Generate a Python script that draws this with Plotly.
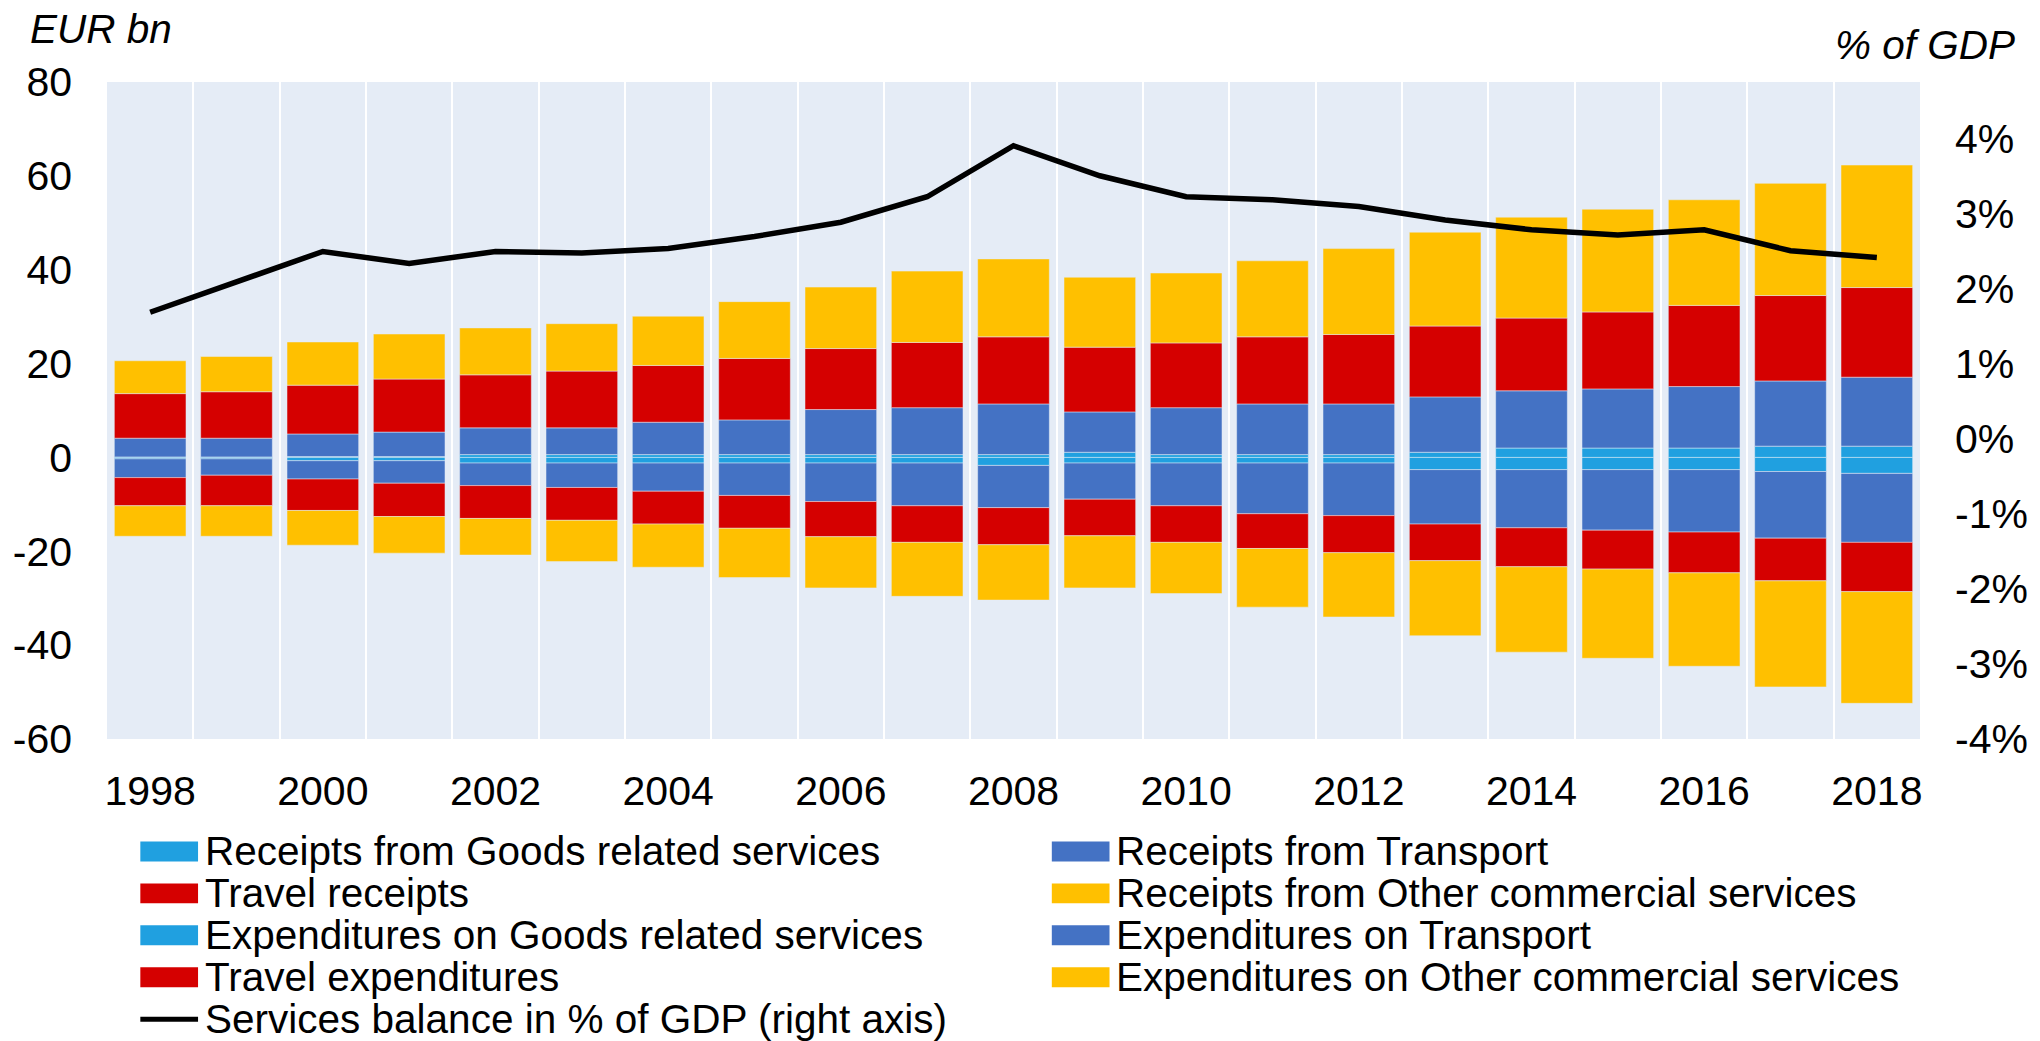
import plotly.graph_objects as go

# ---------------- data (EUR bn) ----------------
years = list(range(1998, 2019))

rec_goods = [0.1, 0.1, 0.2, 0.2, 0.6, 0.6, 0.6, 0.6, 0.6, 0.6, 0.6,
             1.1, 0.6, 0.6, 0.6, 1.1, 2.0, 2.0, 2.0, 2.4, 2.4]
rec_transport = [4.0, 4.0, 4.8, 5.2, 5.7, 5.7, 6.9, 7.4, 9.6, 10.0, 10.8,
                 8.6, 10.0, 10.8, 10.8, 11.8, 12.2, 12.6, 13.1, 13.9, 14.7]
travel_rec = [9.5, 9.9, 10.4, 11.3, 11.3, 12.1, 12.1, 13.1, 13.0, 13.9, 14.3,
              13.8, 13.8, 14.3, 14.8, 15.1, 15.5, 16.4, 17.3, 18.2, 19.1]
rec_other = [7.0, 7.5, 9.2, 9.6, 10.0, 10.1, 10.5, 12.1, 13.1, 15.2, 16.6,
             14.9, 14.9, 16.2, 18.3, 20.0, 21.5, 21.9, 22.5, 23.9, 26.1]

exp_goods = [-0.3, -0.3, -0.7, -0.7, -1.2, -1.2, -1.2, -1.2, -1.2, -1.2, -1.7,
             -1.2, -1.2, -1.2, -1.2, -2.6, -2.6, -2.6, -2.6, -3.0, -3.4]
exp_transport = [-4.0, -3.5, -3.9, -4.8, -4.8, -5.2, -6.0, -6.9, -8.2, -9.1, -9.0,
                 -7.7, -9.1, -10.8, -11.2, -11.6, -12.4, -12.9, -13.3, -14.2, -14.7]
travel_exp = [-6.0, -6.5, -6.7, -7.1, -7.0, -7.0, -7.0, -7.0, -7.5, -7.8, -7.9,
              -7.8, -7.8, -7.4, -7.9, -7.8, -8.3, -8.3, -8.7, -9.1, -10.5]
exp_other = [-6.5, -6.5, -7.4, -7.8, -7.8, -8.8, -9.2, -10.5, -10.9, -11.5, -11.8,
             -11.1, -10.9, -12.5, -13.7, -16.0, -18.2, -19.0, -19.9, -22.6, -23.8]

# services balance, % of GDP (right axis)
balance_pct = [1.69, 2.10, 2.50, 2.34, 2.50, 2.48, 2.54, 2.70, 2.89, 3.23, 3.91,
               3.51, 3.23, 3.19, 3.10, 2.92, 2.79, 2.72, 2.79, 2.51, 2.42]

# tick labels
x_tickvals = list(range(1998, 2019, 2))
x_ticktext = [str(v) for v in x_tickvals]
left_tickvals = [-60, -40, -20, 0, 20, 40, 60, 80]
left_ticktext = ["-60", "-40", "-20", "0", "20", "40", "60", "80"]
right_tickvals = [-4, -3, -2, -1, 0, 1, 2, 3, 4]
right_ticktext = ["-4%", "-3%", "-2%", "-1%", "0%", "1%", "2%", "3%", "4%"]

# ---------------- styles ----------------
LIGHTBLUE = "#20A0E0"
BLUE = "#4472C4"
RED = "#D50000"
YELLOW = "#FFC000"
BG = "#E5ECF6"
FONT = "Liberation Sans, Arial, sans-serif"
FS_TICK = 41
FS_TEXT = 40.5

bar_series = [
    ("Receipts from Goods related services", rec_goods, LIGHTBLUE),
    ("Receipts from Transport", rec_transport, BLUE),
    ("Travel receipts", travel_rec, RED),
    ("Receipts from Other commercial services", rec_other, YELLOW),
    ("Expenditures on Goods related services", exp_goods, LIGHTBLUE),
    ("Expenditures on Transport", exp_transport, BLUE),
    ("Travel expenditures", travel_exp, RED),
    ("Expenditures on Other commercial services", exp_other, YELLOW),
]
line_name = "Services balance in % of GDP (right axis)"

fig = go.Figure()
for name, vals, col in bar_series:
    fig.add_trace(go.Bar(
        x=years, y=vals, name=name,
        marker=dict(color=col, line=dict(color=BG, width=0.5)),
        showlegend=False,
    ))
fig.add_trace(go.Scatter(
    x=years, y=balance_pct, yaxis="y2", mode="lines", name=line_name,
    line=dict(color="black", width=5.5), showlegend=False,
))

# ---------------- layout geometry ----------------
W, H = 2040, 1041
PL, PR, PT, PB = 107, 1929, 82, 739.5


def px_x(px):
    return (px - PL) / (PR - PL)


def px_y(py):
    return (PB - py) / (PB - PT)


fig.update_layout(
    width=W, height=H,
    margin=dict(l=PL, r=W - PR, t=PT, b=H - PB, pad=0),
    paper_bgcolor="white", plot_bgcolor=BG,
    barmode="relative", bargap=0.17,
    font=dict(family=FONT, size=FS_TICK, color="black"),
    showlegend=False,
    xaxis=dict(
        range=[1997.5, 2018.5], tickmode="array",
        tickvals=x_tickvals, ticktext=x_ticktext,
        showgrid=False, zeroline=False, showline=False, ticks="",
        ticklabelstandoff=24,
        minor=dict(tickmode="array", tickvals=[y + 0.5 for y in years[:-1]],
                   showgrid=True, gridcolor="white", gridwidth=1.5),
    ),
    yaxis=dict(
        range=[-60, 80], tickmode="array",
        tickvals=left_tickvals, ticktext=left_ticktext,
        showgrid=False, zeroline=False, showline=False, ticks="",
        ticklabelstandoff=34,
    ),
    yaxis2=dict(
        overlaying="y", side="right", range=[-4, 4.76], tickmode="array",
        tickvals=right_tickvals, ticktext=right_ticktext,
        showgrid=False, zeroline=False, showline=False, ticks="",
        ticklabelstandoff=34,
    ),
)

annotations = [
    dict(text="<i>EUR bn</i>", x=px_x(28), y=px_y(29), xref="paper", yref="paper",
         xanchor="left", yanchor="middle", showarrow=False,
         font=dict(family=FONT, size=FS_TEXT, color="black")),
    dict(text="<i>% of GDP</i>", x=px_x(2026), y=px_y(45), xref="paper", yref="paper",
         xanchor="right", yanchor="middle", showarrow=False,
         font=dict(family=FONT, size=FS_TEXT, color="black")),
]
shapes = []

# custom legend: two columns, five rows
col_x = [140.5, 1056.5]
row_y0, row_dy = 852, 42
sw_w, sw_h = 58, 20
legend_items = [(n, c, "bar") for n, _, c in bar_series] + [(line_name, "black", "line")]
for i, (name, col, kind) in enumerate(legend_items):
    r, c = divmod(i, 2)
    x0 = col_x[c]
    yc = row_y0 + r * row_dy
    if kind == "bar":
        shapes.append(dict(type="rect", xref="paper", yref="paper",
                           x0=px_x(x0), x1=px_x(x0 + sw_w),
                           y0=px_y(yc + sw_h / 2), y1=px_y(yc - sw_h / 2),
                           fillcolor=col, line=dict(width=0)))
    else:
        shapes.append(dict(type="line", xref="paper", yref="paper",
                           x0=px_x(x0), x1=px_x(x0 + sw_w),
                           y0=px_y(yc), y1=px_y(yc),
                           line=dict(color=col, width=5)))
    annotations.append(dict(text=name, x=px_x(x0 + 63), y=px_y(yc),
                            xref="paper", yref="paper", xanchor="left",
                            yanchor="middle", showarrow=False,
                            font=dict(family=FONT, size=FS_TEXT, color="black")))

fig.update_layout(annotations=annotations, shapes=shapes)

fig.write_html(
    "out.html",
    config={"displayModeBar": False},
    post_script="document.body.style.margin='0';document.body.style.padding='0';",
)
